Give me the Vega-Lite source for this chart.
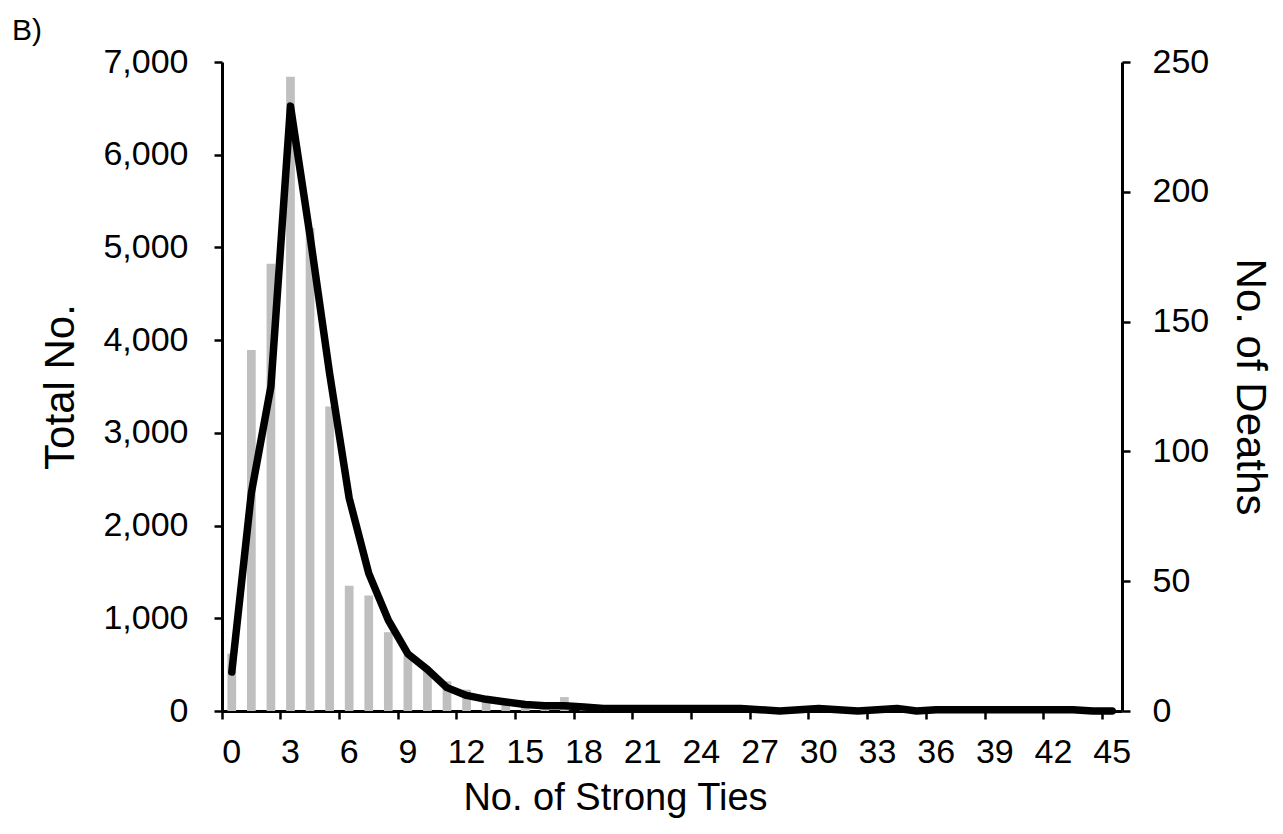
{
  "$schema": "https://vega.github.io/schema/vega-lite/v6.json",
  "width": 900,
  "height": 649,
  "autosize": {"type": "none"},
  "padding": {"left": 222, "top": 62, "right": 161, "bottom": 123},
  "background": "white",
  "title": {
    "text": "B)",
    "anchor": "start",
    "frame": "group",
    "dx": -210,
    "dy": 42,
    "offset": 17,
    "baseline": "alphabetic",
    "font": "Liberation Sans",
    "fontSize": 30,
    "fontWeight": "normal",
    "color": "black"
  },
  "data": {
    "values": [
      {"ties": 0, "total": 620, "deaths": 15},
      {"ties": 1, "total": 3895, "deaths": 84},
      {"ties": 2, "total": 4825, "deaths": 125},
      {"ties": 3, "total": 6840, "deaths": 233},
      {"ties": 4, "total": 5210, "deaths": 183},
      {"ties": 5, "total": 3285, "deaths": 130},
      {"ties": 6, "total": 1350, "deaths": 82},
      {"ties": 7, "total": 1245, "deaths": 53},
      {"ties": 8, "total": 850, "deaths": 35},
      {"ties": 9, "total": 600, "deaths": 22},
      {"ties": 10, "total": 450, "deaths": 16},
      {"ties": 11, "total": 320, "deaths": 9},
      {"ties": 12, "total": 230, "deaths": 6},
      {"ties": 13, "total": 120, "deaths": 4.5},
      {"ties": 14, "total": 90, "deaths": 3.5},
      {"ties": 15, "total": 60, "deaths": 2.5},
      {"ties": 16, "total": 50, "deaths": 2},
      {"ties": 17, "total": 150, "deaths": 2},
      {"ties": 18, "total": 35, "deaths": 1.5},
      {"ties": 19, "total": 30, "deaths": 1},
      {"ties": 20, "total": 25, "deaths": 1},
      {"ties": 21, "total": 20, "deaths": 1},
      {"ties": 22, "total": 15, "deaths": 1},
      {"ties": 23, "total": 55, "deaths": 1},
      {"ties": 24, "total": 12, "deaths": 1},
      {"ties": 25, "total": 10, "deaths": 1},
      {"ties": 26, "total": 8, "deaths": 1},
      {"ties": 27, "total": 6, "deaths": 0.5},
      {"ties": 28, "total": 5, "deaths": 0},
      {"ties": 29, "total": 4, "deaths": 0.5},
      {"ties": 30, "total": 4, "deaths": 1},
      {"ties": 31, "total": 3, "deaths": 0.5},
      {"ties": 32, "total": 3, "deaths": 0},
      {"ties": 33, "total": 2, "deaths": 0.5},
      {"ties": 34, "total": 2, "deaths": 1},
      {"ties": 35, "total": 2, "deaths": 0},
      {"ties": 36, "total": 2, "deaths": 0.5},
      {"ties": 37, "total": 1, "deaths": 0.5},
      {"ties": 38, "total": 1, "deaths": 0.5},
      {"ties": 39, "total": 1, "deaths": 0.5},
      {"ties": 40, "total": 1, "deaths": 0.5},
      {"ties": 41, "total": 1, "deaths": 0.5},
      {"ties": 42, "total": 1, "deaths": 0.5},
      {"ties": 43, "total": 1, "deaths": 0.5},
      {"ties": 44, "total": 1, "deaths": 0},
      {"ties": 45, "total": 1, "deaths": 0}
    ]
  },
  "encoding": {
    "x": {
      "field": "ties",
      "type": "ordinal",
      "sort": "ascending",
      "scale": {"paddingInner": 0, "paddingOuter": 0},
      "axis": {
        "title": "No. of Strong Ties",
        "values": [0, 3, 6, 9, 12, 15, 18, 21, 24, 27, 30, 33, 36, 39, 42, 45],
        "labelAngle": 0,
        "bandPosition": 0,
        "labelPadding": 16,
        "titlePadding": 10,
        "titleX": 393,
        "titleAlign": "center",
        "titleFontSize": 38
      }
    }
  },
  "layer": [
    {
      "mark": {"type": "bar", "color": "#BFBFBF", "size": 8.7},
      "encoding": {
        "y": {
          "field": "total",
          "type": "quantitative",
          "scale": {"domain": [0, 7000], "nice": false},
          "axis": {
            "title": "Total No.",
            "orient": "left",
            "values": [0, 1000, 2000, 3000, 4000, 5000, 6000, 7000],
            "format": ",d",
            "labelPadding": 26,
            "titlePadding": 20
          }
        }
      }
    },
    {
      "mark": {"type": "line", "color": "black", "strokeWidth": 7.5, "strokeJoin": "round", "strokeCap": "round"},
      "encoding": {
        "y": {
          "field": "deaths",
          "type": "quantitative",
          "scale": {"domain": [0, 250], "nice": false},
          "axis": {
            "title": "No. of Deaths",
            "orient": "right",
            "values": [0, 50, 100, 150, 200, 250],
            "labelPadding": 22,
            "titlePadding": 19
          }
        }
      }
    }
  ],
  "resolve": {"scale": {"y": "independent"}},
  "config": {
    "view": {"stroke": null},
    "axis": {
      "grid": false,
      "domainColor": "black",
      "domainWidth": 3,
      "tickColor": "black",
      "tickWidth": 2.5,
      "tickSize": 8,
      "labelFont": "Liberation Sans",
      "labelFontSize": 34,
      "labelColor": "black",
      "titleFont": "Liberation Sans",
      "titleFontSize": 42,
      "titleFontWeight": "normal",
      "titleColor": "black"
    }
  }
}
